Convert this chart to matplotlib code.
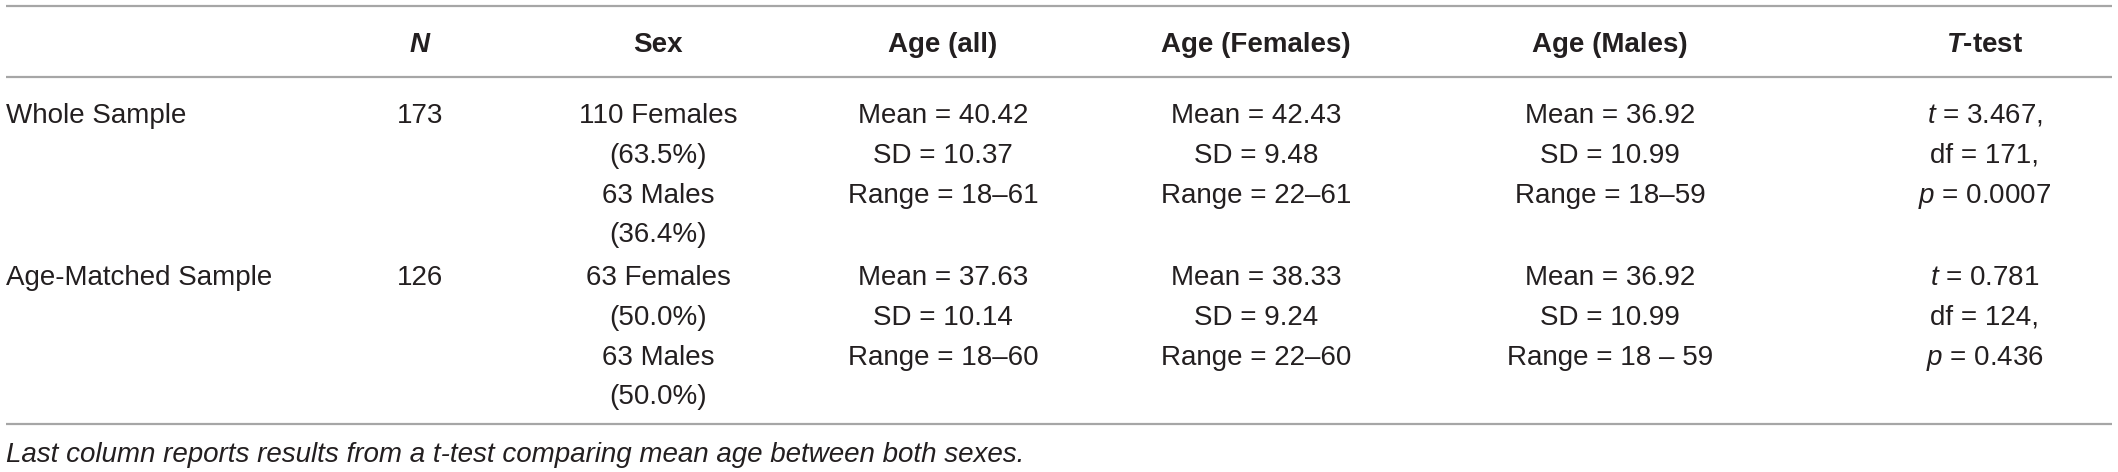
import matplotlib
matplotlib.use("Agg")
import matplotlib.pyplot as plt

# ---- data ----
samples = ["Whole Sample", "Age-Matched Sample"]
n_total = [173, 126]
females_n = [110, 63]
females_pct = ["63.5%", "50.0%"]
males_n = [63, 63]
males_pct = ["36.4%", "50.0%"]
age_all_mean = ["40.42", "37.63"]
age_all_sd = ["10.37", "10.14"]
age_all_range = ["18–61", "18–60"]
age_f_mean = ["42.43", "38.33"]
age_f_sd = ["9.48", "9.24"]
age_f_range = ["22–61", "22–60"]
age_m_mean = ["36.92", "36.92"]
age_m_sd = ["10.99", "10.99"]
age_m_range = ["18–59", "18 – 59"]
t_vals = ["3.467,", "0.781"]
df_vals = ["171,", "124,"]
p_vals = ["0.0007", "0.436"]
headers = ["", "$\\mathbfit{N}$", "Sex", "Age (all)", "Age (Females)", "Age (Males)", "$\\mathbfit{T}$-test"]
footnote = "Last column reports results from a t-test comparing mean age between both sexes."

plt.rcParams["mathtext.fontset"] = "custom"
plt.rcParams["mathtext.rm"] = "Liberation Sans"
plt.rcParams["mathtext.it"] = "Liberation Sans:italic"
plt.rcParams["mathtext.bf"] = "Liberation Sans:bold"
plt.rcParams["mathtext.bfit"] = "Liberation Sans:italic:bold"

W, H = 2118, 472
fig = plt.figure(figsize=(W / 100, H / 100), dpi=100)
ax = fig.add_axes([0, 0, 1, 1])
ax.set_xlim(0, W)
ax.set_ylim(H, 0)
ax.axis("off")

FONT = "Liberation Sans"
FS = 20
TC = "#231f20"
LC = "#a6a6a6"

col_x = [6, 420, 658, 943, 1256, 1610, 1985]

# rules
for y in [6, 77, 424]:
    ax.plot([6, 2112], [y, y], color=LC, lw=1.6, solid_capstyle="butt")

# header
for i, h in enumerate(headers):
    if not h:
        continue
    ax.text(col_x[i], 52, h, ha="center", va="baseline", fontsize=FS,
            fontweight="bold", family=FONT, color=TC)

group_base = [123, 285]
step = 39.8
for g in range(2):
    b = group_base[g]
    ax.text(col_x[0], b, samples[g], ha="left", va="baseline", fontsize=FS, family=FONT, color=TC)
    ax.text(col_x[1], b, str(n_total[g]), ha="center", va="baseline", fontsize=FS, family=FONT, color=TC)
    sex_lines = [f"{females_n[g]} Females", f"({females_pct[g]})", f"{males_n[g]} Males", f"({males_pct[g]})"]
    for k, s in enumerate(sex_lines):
        ax.text(col_x[2], b + k * step, s, ha="center", va="baseline", fontsize=FS, family=FONT, color=TC)
    cols = [
        (age_all_mean, age_all_sd, age_all_range),
        (age_f_mean, age_f_sd, age_f_range),
        (age_m_mean, age_m_sd, age_m_range),
    ]
    for ci, (mn, sd, rg) in enumerate(cols):
        lines = [f"Mean = {mn[g]}", f"SD = {sd[g]}", f"Range = {rg[g]}"]
        for k, s in enumerate(lines):
            ax.text(col_x[3 + ci], b + k * step, s, ha="center", va="baseline", fontsize=FS, family=FONT, color=TC)
    tl = [f"$\\mathit{{t}}$ = {t_vals[g]}", f"df = {df_vals[g]}", f"$\\mathit{{p}}$ = {p_vals[g]}"]
    for k, s in enumerate(tl):
        ax.text(col_x[6], b + k * step, s, ha="center", va="baseline", fontsize=FS, family=FONT, color=TC)

ax.text(6, 462, footnote, ha="left", va="baseline", fontsize=FS, family=FONT,
        style="italic", color=TC)

fig.savefig("out.png", dpi=100)
